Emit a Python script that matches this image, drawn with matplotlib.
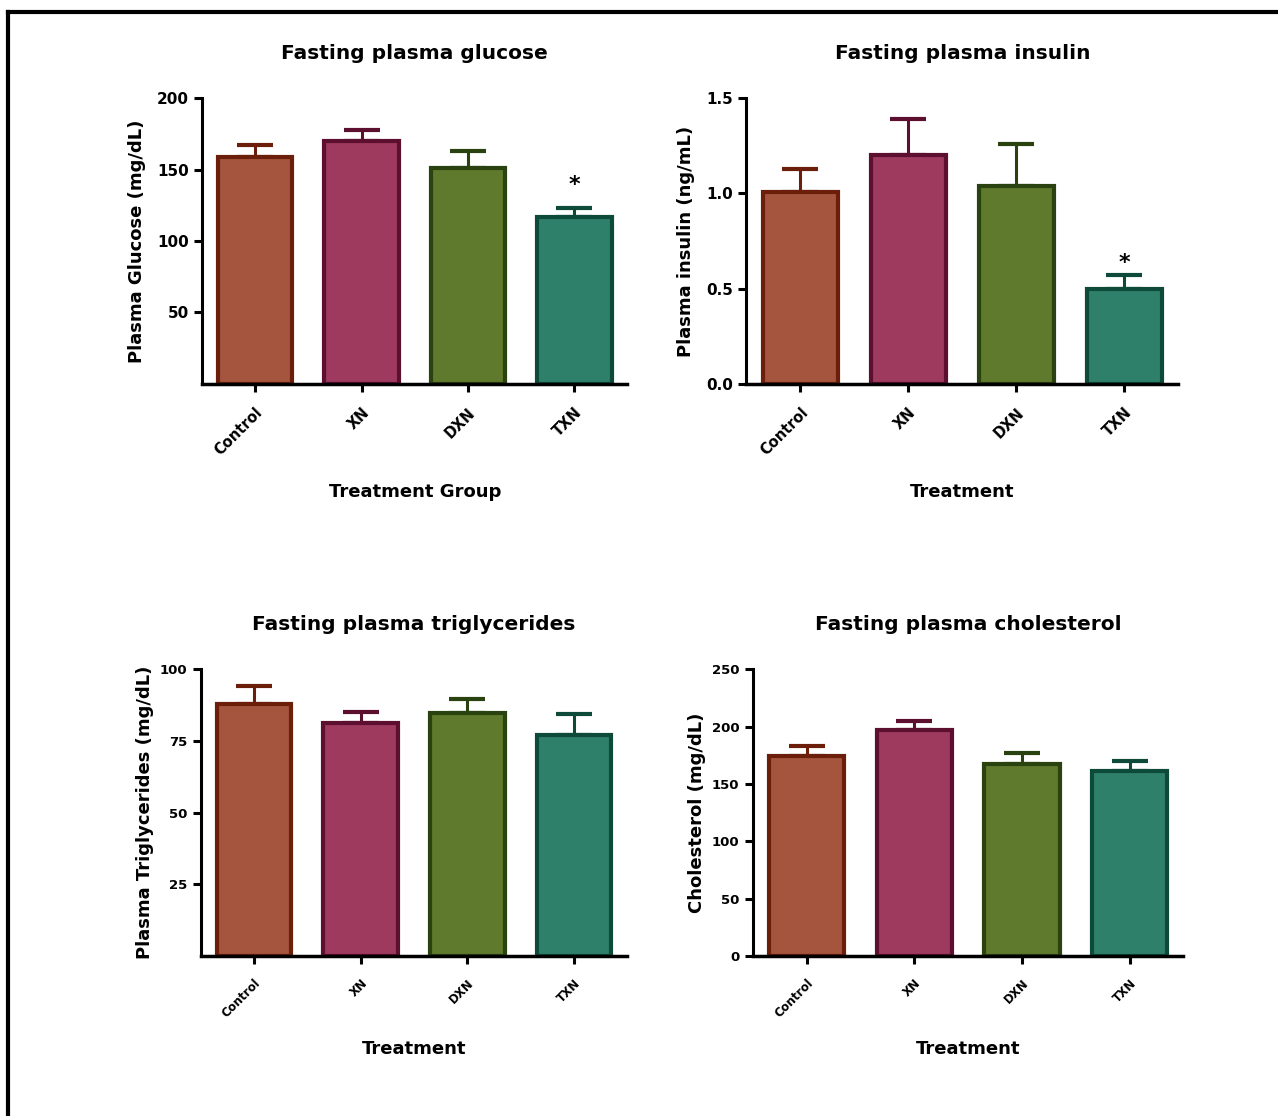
import numpy as np
import matplotlib.pyplot as plt
from matplotlib.lines import Line2D

groups = ["Control", "XN", "DXN", "TXN"]
fill_colors = ["#A5553D", "#9E3A5E", "#5F7A2C", "#2E806A"]
edge_colors = ["#6B1E0A", "#5C0F2E", "#2A4210", "#0E4A3A"]

glucose = [159, 170, 151, 116.5]
glucose_err = [8, 7.7, 12.3, 6.5]
insulin = [1.01, 1.20, 1.04, 0.50]
insulin_err = [0.12, 0.19, 0.22, 0.07]
trig = [87.9, 81.2, 84.8, 76.9]
trig_err = [6.4, 3.8, 4.7, 7.4]
chol = [174.3, 197, 167.6, 161]
chol_err = [8.7, 7.5, 9, 8.7]

plt.rcParams['font.family'] = ['DejaVu Sans']
plt.rcParams['font.weight'] = 'bold'

fig = plt.figure(figsize=(12.78, 11.16), dpi=100)

panels = [
    # position, values, errors, title, ylabel, xlabel, ymax, yticks, star, small ticks
    ([0.158, 0.656, 0.333, 0.256], glucose, glucose_err, "Fasting plasma glucose",
     "Plasma Glucose (mg/dL)", "Treatment Group", 200, [50, 100, 150, 200], 139, False),
    ([0.584, 0.656, 0.338, 0.256], insulin, insulin_err, "Fasting plasma insulin",
     "Plasma insulin (ng/mL)", "Treatment", 1.5, [0.0, 0.5, 1.0, 1.5], 0.635, False),
    ([0.157, 0.1434, 0.334, 0.257], trig, trig_err, "Fasting plasma triglycerides",
     "Plasma Triglycerides (mg/dL)", "Treatment", 100, [25, 50, 75, 100], None, True),
    ([0.589, 0.1434, 0.337, 0.257], chol, chol_err, "Fasting plasma cholesterol",
     "Cholesterol (mg/dL)", "Treatment", 250, [0, 50, 100, 150, 200, 250], None, True),
]

x = np.arange(len(groups))
for pos, vals, errs, title, ylab, xlab, ymax, yticks, star, small in panels:
    ax = fig.add_axes(pos)
    ax.bar(x, vals, width=0.7, color=fill_colors, edgecolor=edge_colors,
           linewidth=3, zorder=2)
    for i in range(len(groups)):
        ax.errorbar(x[i], vals[i], yerr=[[0], [errs[i]]], fmt='none',
                    ecolor=edge_colors[i], elinewidth=2.2, capsize=13,
                    capthick=3, zorder=1)
    if star is not None:
        ax.text(3, star, "*", ha='center', va='center', fontsize=16,
                fontweight='bold')
    ax.set_xlim(-0.5, 3.5)
    ax.set_ylim(0, ymax)
    ax.set_yticks(yticks)
    if ymax == 1.5:
        ax.set_yticklabels(["%.1f" % t for t in yticks])
    ax.set_xticks(x)
    tsize = 8.5 if small else 10.5
    ax.set_xticklabels(groups, rotation=45, ha='right', rotation_mode='anchor',
                       fontsize=tsize, fontweight='bold')
    for lab in ax.get_yticklabels():
        lab.set_fontsize(9.5 if small else 11)
        lab.set_fontweight('bold')
    ax.spines['top'].set_visible(False)
    ax.spines['right'].set_visible(False)
    ax.spines['left'].set_linewidth(2.2)
    ax.spines['bottom'].set_linewidth(2.5)
    ax.tick_params(axis='y', width=2.2, length=6, direction='out')
    ax.tick_params(axis='x', width=2.2, length=6, direction='out', pad=9)
    ax.set_title(title, fontsize=14.5, fontweight='bold', pad=28)
    ax.set_ylabel(ylab, fontsize=13, fontweight='bold', labelpad=8 if not small else 4)
    ax.set_xlabel(xlab, fontsize=13, fontweight='bold', labelpad=18 if not small else 14)

# frame lines at top and left edge
fig.add_artist(Line2D([8 / 1278, 8 / 1278], [0, 1 - 12 / 1116], color='black',
                      linewidth=3, transform=fig.transFigure))
fig.add_artist(Line2D([8 / 1278, 1], [1 - 12 / 1116, 1 - 12 / 1116], color='black',
                      linewidth=3, transform=fig.transFigure))

fig.savefig("out.png", dpi=100)
